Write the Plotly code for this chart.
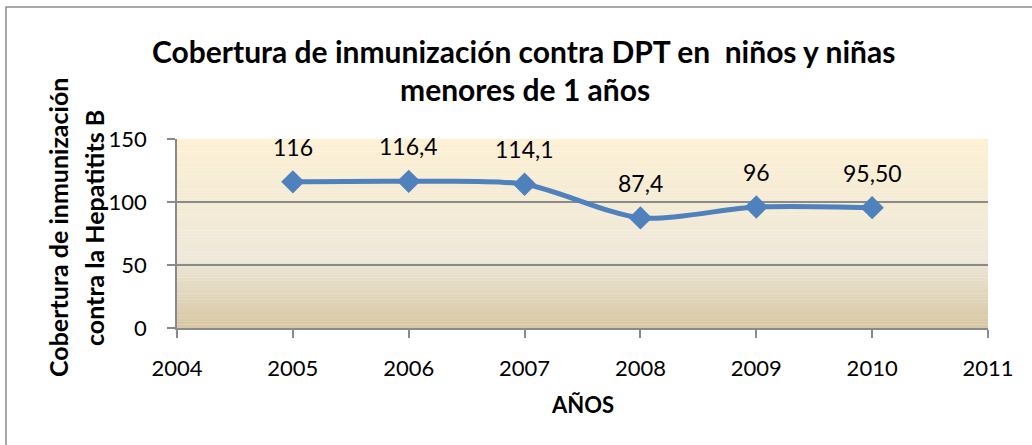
import plotly.graph_objects as go

years = [2005, 2006, 2007, 2008, 2009, 2010]
values = [116, 116.4, 114.1, 87.4, 96, 95.5]
labels = ["116", "116,4", "114,1", "87,4", "96", "95,50"]
x_ticks = [2004, 2005, 2006, 2007, 2008, 2009, 2010, 2011]
y_ticks = [0, 50, 100, 150]

title_lines = ["Cobertura de inmunización contra DPT en  niños y niñas", "menores de 1 años"]
ytitle_lines = ["Cobertura de inmunización", "contra la Hepatitits B"]
xtitle_text = "AÑOS"

FONT = "Lato, Calibri, Carlito, sans-serif"
GRID = "#8a8a8a"

fig = go.Figure()
fig.add_trace(go.Scatter(
    x=years, y=values, mode="lines+markers",
    line=dict(color="#4F81BD", width=5, shape="spline", smoothing=0.8),
    marker=dict(symbol="diamond", size=18, color="#4F81BD"),
    hoverinfo="skip", showlegend=False,
))

for xv, yv, t in zip(years, values, labels):
    fig.add_annotation(x=xv, y=yv, text=t, showarrow=False, yshift=35,
                       xanchor="center", yanchor="middle",
                       font=dict(family=FONT, size=23, color="black"))

# gradient background bands (plot area)
def lerp(c1, c2, t):
    return tuple(int(round(a + (b - a) * t)) for a, b in zip(c1, c2))

stops = [(0.0, (253, 240, 213)), (0.35, (244, 235, 213)), (0.62, (239, 233, 219)), (1.0, (214, 198, 161))]
n = 60
shapes = []
for i in range(n):
    f0 = i / n
    f1 = (i + 1) / n
    fm = (f0 + f1) / 2  # fraction from top
    for j in range(len(stops) - 1):
        if stops[j][0] <= fm <= stops[j + 1][0]:
            t = (fm - stops[j][0]) / (stops[j + 1][0] - stops[j][0])
            c = lerp(stops[j][1], stops[j + 1][1], t)
            break
    shapes.append(dict(type="rect", xref="x domain", yref="y domain",
                       x0=0, x1=1, y0=1 - f1, y1=1 - f0 + 0.001,
                       fillcolor="rgb(%d,%d,%d)" % c, line=dict(width=0), layer="below"))

L, R, T, B = 177, 44, 139, 117
W, H = 1032, 445
pw = W - L - R
ph = H - T - B
def px(xp):
    return (xp - L) / pw
def py(yp):
    return (H - B - yp) / ph

shapes.append(dict(type="rect", xref="paper", yref="paper",
                   x0=px(6), x1=px(1040), y0=py(452), y1=py(7),
                   line=dict(color="#8c8c8c", width=1.5), fillcolor="rgba(0,0,0,0)"))

fig.update_layout(
    width=W, height=H,
    margin=dict(l=L, r=R, t=T, b=B, autoexpand=False),
    paper_bgcolor="white", plot_bgcolor="rgba(0,0,0,0)",
    shapes=shapes,
    font=dict(family=FONT, size=22, color="black"),
    xaxis=dict(range=[2004, 2011], tickvals=x_ticks, ticktext=[str(v) for v in x_ticks],
               showgrid=False, zeroline=False, showline=True, linecolor=GRID, linewidth=1.5,
               ticks="outside", ticklen=8, tickcolor=GRID, tickwidth=1.5,
               ticklabelstandoff=12,
               tickfont=dict(family=FONT, size=22), fixedrange=True),
    yaxis=dict(range=[0, 150], tickvals=y_ticks, showgrid=True, gridcolor=GRID, gridwidth=1.5,
               zeroline=False, showline=True, linecolor=GRID, linewidth=1.5,
               ticks="outside", ticklen=8, tickcolor=GRID, tickwidth=1.5,
               ticklabelstandoff=16,
               tickfont=dict(family=FONT, size=22), fixedrange=True),
)

for txt, cx, cy in zip(title_lines, [523, 525], [51, 89]):
    fig.add_annotation(xref="paper", yref="paper", x=px(cx), y=py(cy), text=txt,
                       showarrow=False, xanchor="center", yanchor="middle",
                       font=dict(family=FONT, size=30, color="black", weight="bold"))
for txt, cx in zip(ytitle_lines, [58, 94]):
    fig.add_annotation(xref="paper", yref="paper", x=px(cx), y=py(228), text=txt,
                       showarrow=False, xanchor="center", yanchor="middle", textangle=-90,
                       font=dict(family=FONT, size=25, color="black", weight="bold"))
fig.add_annotation(xref="paper", yref="paper", x=px(582), y=py(404), text=xtitle_text,
                   showarrow=False, xanchor="center", yanchor="middle",
                   font=dict(family=FONT, size=22, color="black", weight="bold"))

fig.write_html("out.html", config={"displayModeBar": False},
               post_script="document.body.style.margin='0px';")
